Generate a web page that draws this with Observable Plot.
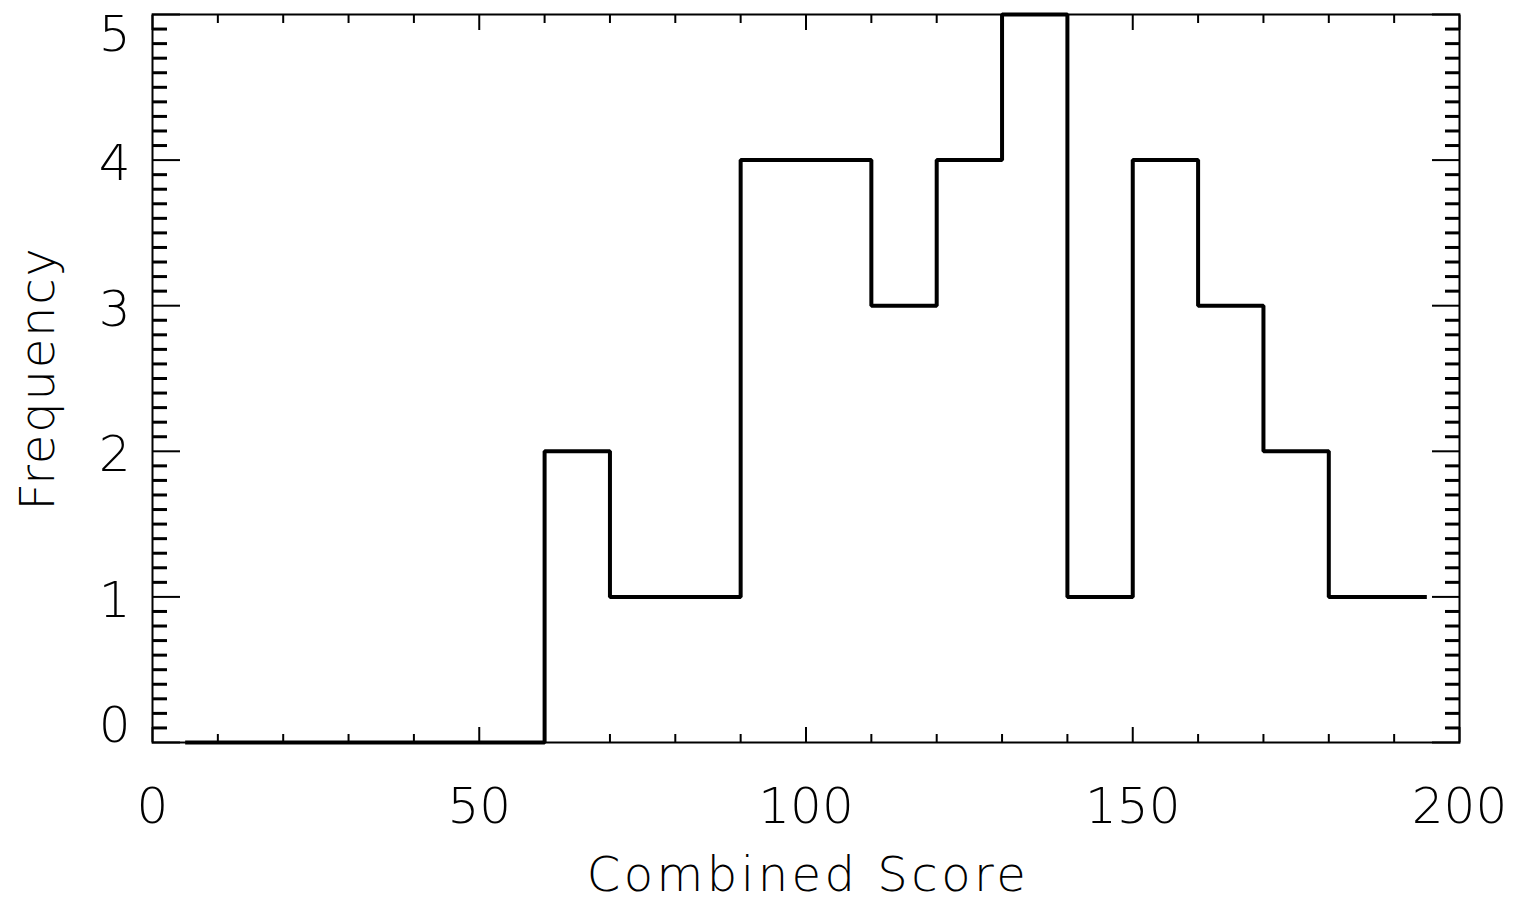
<!DOCTYPE html>
<html>
<head>
<meta charset="utf-8">
<script src="https://cdn.jsdelivr.net/npm/d3@7"></script>
<script src="https://cdn.jsdelivr.net/npm/@observablehq/plot@0.6"></script>
<style>
  html, body { margin: 0; padding: 0; background: #fff; }
  #chart svg { display: block; }
  #chart [aria-label="x-title"], #chart [aria-label="x-title"] text { letter-spacing: 3.5px; }
  #chart [aria-label="y-title"], #chart [aria-label="y-title"] text { letter-spacing: 1.8px; }
</style>
</head>
<body>
<div id="chart"></div>
<script>
// Histogram bin centers and counts
const binCenters = [5, 15, 25, 35, 45, 55, 65, 75, 85, 95, 105, 115, 125, 135, 145, 155, 165, 175, 185, 195];
const binCounts  = [0, 0, 0, 0, 0, 0, 2, 1, 1, 4, 4, 3, 4, 5, 1, 4, 3, 2, 1, 1];

// Tick labels
const xTickLabels = [0, 50, 100, 150, 200];
const yTickLabels = [0, 1, 2, 3, 4, 5];
const xLabel = "Combined Score";
const yLabel = "Frequency";

const data = binCenters.map((c, i) => ({x: c, y: binCounts[i]}));
const xMinor = d3.range(0, 201, 10).filter(v => v % 50 !== 0);
const yMinor = d3.range(0, 50.5, 1).map(v => v / 10).filter(v => Math.abs(v - Math.round(v)) > 1e-9);

const font = "'DejaVu Sans', sans-serif";
const fs = 50;

const chart = Plot.plot({
  width: 1517,
  height: 901,
  marginLeft: 152,
  marginRight: 58,
  marginTop: 14,
  marginBottom: 159,
  style: {fontFamily: font, background: "#fff", color: "#000", overflow: "visible"},
  x: {domain: [0, 200]},
  y: {domain: [0, 5]},
  marks: [
    Plot.frame({stroke: "#000", strokeWidth: 2}),
    // X ticks (bottom & top), inward
    Plot.axisX({anchor: "bottom", ticks: xMinor, tickSize: -8, text: null, label: null, strokeWidth: 2}),
    Plot.axisX({anchor: "bottom", ticks: xTickLabels, tickSize: -15, text: null, label: null, strokeWidth: 2}),
    Plot.axisX({anchor: "top", ticks: xMinor, tickSize: -8, text: null, label: null, strokeWidth: 2}),
    Plot.axisX({anchor: "top", ticks: xTickLabels, tickSize: -15, text: null, label: null, strokeWidth: 2}),
    // Y ticks (left & right), inward
    Plot.axisY({anchor: "left", ticks: yMinor, tickSize: -15, text: null, label: null, strokeWidth: 3}),
    Plot.axisY({anchor: "left", ticks: yTickLabels, tickSize: -28, text: null, label: null, strokeWidth: 2}),
    Plot.axisY({anchor: "right", ticks: yMinor, tickSize: -15, text: null, label: null, strokeWidth: 3}),
    Plot.axisY({anchor: "right", ticks: yTickLabels, tickSize: -28, text: null, label: null, strokeWidth: 2}),
    // X tick labels
    Plot.axisX({anchor: "bottom", ticks: xTickLabels, tickSize: 0, tickPadding: 45, label: null,
      fontSize: fs, fontWeight: 200, tickFormat: d => String(d)}),
    // Y tick labels (end labels pulled inward)
    Plot.axisY({anchor: "left", ticks: yTickLabels.filter(v => v > 0 && v < 5), tickSize: 0, tickPadding: 22, label: null,
      fontSize: fs, fontWeight: 200, dy: 4, tickFormat: d => String(d)}),
    Plot.axisY({anchor: "left", ticks: [yTickLabels[0]], tickSize: 0, tickPadding: 22, label: null,
      fontSize: fs, fontWeight: 200, dy: -17, tickFormat: d => String(d)}),
    Plot.axisY({anchor: "left", ticks: [yTickLabels[yTickLabels.length - 1]], tickSize: 0, tickPadding: 22, label: null,
      fontSize: fs, fontWeight: 200, dy: 20, tickFormat: d => String(d)}),
    // Histogram step line
    Plot.line(data, {x: "x", y: "y", curve: "step", stroke: "#000", strokeWidth: 4,
      strokeLinejoin: "miter", strokeLinecap: "butt"}),
    // Axis titles
    Plot.text([xLabel], {frameAnchor: "bottom", text: d => d, dy: 148, dx: 2, lineAnchor: "bottom", textAnchor: "middle",
      fontSize: 48, fontWeight: 200, fill: "#000", ariaLabel: () => "x-title"}),
    Plot.text([yLabel], {frameAnchor: "left", text: d => d, dx: -99, rotate: -90, lineAnchor: "bottom", textAnchor: "middle",
      fontSize: 48, fontWeight: 200, fill: "#000", ariaLabel: () => "y-title"})
  ]
});

document.getElementById("chart").appendChild(chart);
</script>
</body>
</html>
